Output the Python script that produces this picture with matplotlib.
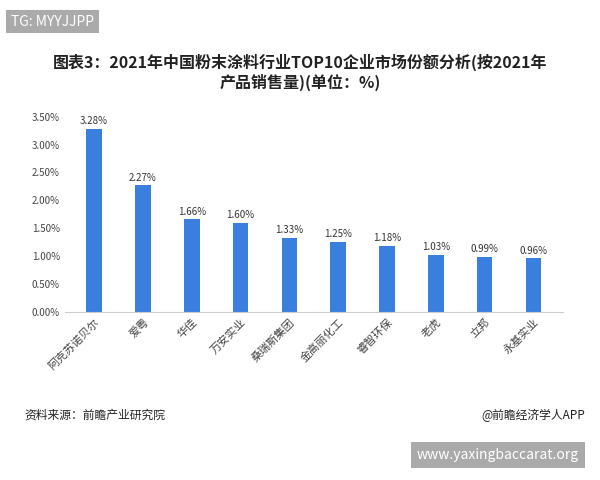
import matplotlib
matplotlib.use("Agg")
import matplotlib.pyplot as plt
from matplotlib.ticker import FuncFormatter, MultipleLocator

plt.rcParams['font.family'] = ['Noto Sans CJK SC', 'DejaVu Sans']

companies = ["阿克苏诺贝尔", "爱粤", "华佳", "万安实业", "桑瑞斯集团", "金高丽化工", "睿智环保", "老虎", "立邦", "永基实业"]
shares = [3.28, 2.27, 1.66, 1.60, 1.33, 1.25, 1.18, 1.03, 0.99, 0.96]

fig = plt.figure(figsize=(6, 4.8), dpi=100)
ax = fig.add_axes([0.108, 0.35, 0.83, 0.407])
x = range(len(companies))
ax.bar(x, shares, width=0.32, color="#3a7fde")
for i, v in enumerate(shares):
    ax.text(i, v + 0.05, f"{v:.2f}%", ha="center", va="bottom", fontsize=7, color="#333333")
ax.set_ylim(0, 3.5)
ax.yaxis.set_major_locator(MultipleLocator(0.5))
ax.yaxis.set_major_formatter(FuncFormatter(lambda v, p: f"{v:.2f}%"))
ax.set_xlim(-0.6, len(companies) - 0.4)
ax.set_xticks(list(x))
ax.set_xticklabels(companies, rotation=45, ha="right", rotation_mode="anchor", fontsize=8, color="#444444")
ax.tick_params(axis="y", labelsize=7, colors="#444444", length=0)
ax.tick_params(axis="x", length=0)
for s in ["top", "right", "left"]:
    ax.spines[s].set_visible(False)
ax.spines["bottom"].set_color("#cccccc")

fig.text(0.5, 0.85, "图表3：2021年中国粉末涂料行业TOP10企业市场份额分析(按2021年\n产品销售量)(单位：%)",
         ha="center", va="center", fontsize=11.5, fontweight="bold", color="#222222", linespacing=1.2)
fig.text(0.018, 0.955, "TG: MYYJJPP", fontsize=10, color="white", va="center",
         bbox=dict(boxstyle="square,pad=0.35", fc="#aaaaaa", ec="none"))
fig.text(0.04, 0.135, "资料来源：前瞻产业研究院", fontsize=8.5, color="#222222", va="center")
fig.text(0.975, 0.135, "@前瞻经济学人APP", fontsize=8.5, color="#222222", va="center", ha="right")
fig.text(0.965, 0.052, "www.yaxingbaccarat.org", fontsize=10, color="white", va="center", ha="right",
         bbox=dict(boxstyle="square,pad=0.4", fc="#aaaaaa", ec="none"))
fig.savefig("out.png", dpi=100)
